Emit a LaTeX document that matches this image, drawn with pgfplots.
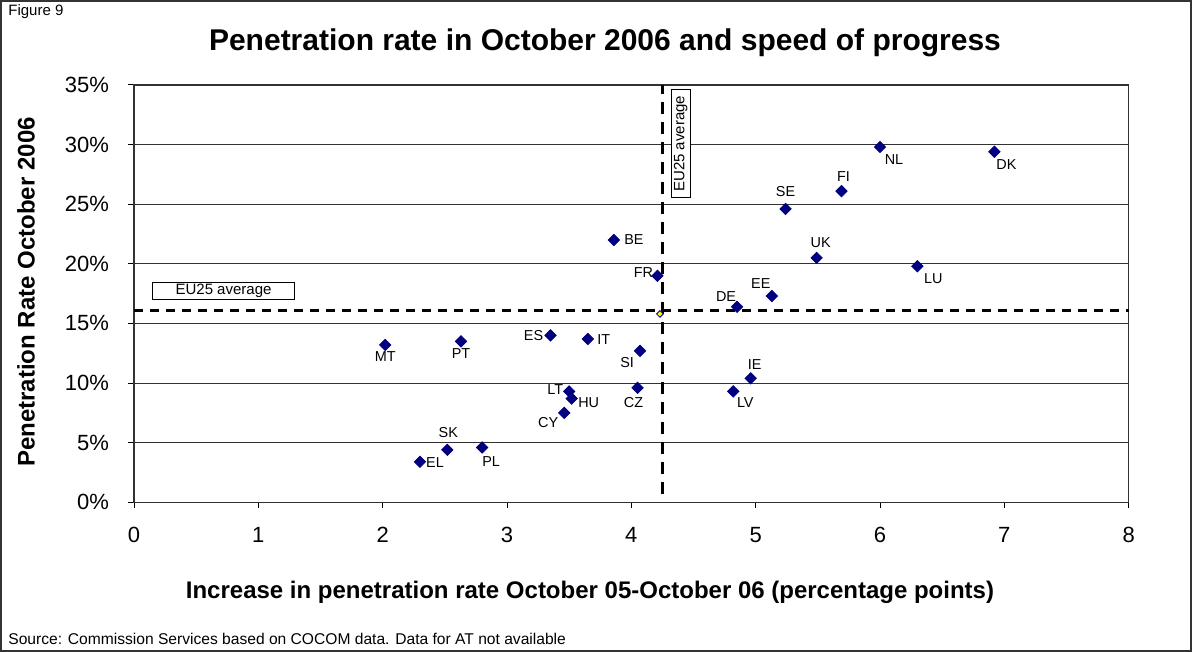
\documentclass[border=0pt]{standalone}
\usepackage{pgfplots}
\pgfplotsset{compat=1.18}
\usepackage{pgfplotstable}
\usepackage{fontspec}
\setmainfont{Liberation Sans}
\definecolor{navy}{RGB}{0,0,128}
\definecolor{gridc}{RGB}{50,50,50}

\pgfplotstableread{
x y lab dx dy
2.02 13.2 MT 0 -6
2.63 13.5 PT 0 -6
3.35 14.0 ES -8.5 0
3.65 13.7 IT 8 -0.5
4.07 12.7 SI -6.5 -6
3.50 9.3 LT -7 1
3.52 8.7 HU 8.5 -2
3.46 7.5 CY -8 -5
4.05 9.6 CZ -2 -7.5
2.52 4.4 SK 0.5 8.5
2.30 3.4 EL 7.5 -0.5
2.80 4.6 PL 4.5 -7
3.86 22.0 BE 10 0
4.21 19.0 FR -7 1.5
4.85 16.4 DE -5.5 5
5.13 17.3 EE -5.5 6
5.49 20.5 UK 2 7.5
6.30 19.8 LU 8 -6
5.24 24.6 SE 0 8.5
5.69 26.1 FI 1 7.5
6.00 29.8 NL 7 -6.5
6.92 29.4 DK 6 -6.5
4.96 10.4 IE 2 7
4.82 9.3 LV 6 -5.5
}\data

\begin{document}
\begin{tikzpicture}
\draw[line width=0.8pt, black!80] (0.4pt,0.4pt) rectangle (595.6pt,325.6pt);
\node[anchor=west, inner sep=0pt, font=\fontsize{7.5}{9}\selectfont] at (4pt,320pt) {Figure 9};
\node[font=\bfseries\fontsize{15}{17}\selectfont] at (302.5pt,304.5pt) {Penetration rate in October 2006 and speed of progress};
\node[rotate=90, font=\bfseries\fontsize{12}{14}\selectfont] at (13pt,180pt) {Penetration Rate October 2006};
\node[font=\bfseries\fontsize{12}{14}\selectfont] at (295pt,30pt) {Increase in penetration rate October 05-October 06 (percentage points)};
\node[anchor=west, inner sep=0pt, font=\fontsize{7.8}{9}\selectfont] at (4pt,6.5pt) {Source: Commission Services based on COCOM data. Data for AT not available};
\begin{axis}[
  at={(67pt,74.85pt)}, anchor=south west, scale only axis,
  width=497.35pt, height=208.65pt,
  xmin=0, xmax=8, ymin=0, ymax=35,
  xtick={0,1,2,3,4,5,6,7,8},
  xticklabels={0,1,2,3,4,5,6,7,8},
  ytick={0,5,10,15,20,25,30,35},
  yticklabels={0\%,5\%,10\%,15\%,20\%,25\%,30\%,35\%},
  xtick pos=bottom, ytick pos=left,
  tick align=outside, major tick length=3pt,
  tick style={black, line width=0.5pt},
  ymajorgrids, grid style={gridc, line width=0.5pt},
  axis line style={gridc, line width=0.6pt},
  ticklabel style={font=\fontsize{11}{13}\selectfont},
  xticklabel style={yshift=-6pt},
  yticklabel style={xshift=-6pt},
  clip=false,
]
\addplot[black, line width=1.5pt, dash pattern=on 4.5pt off 3.5pt] coordinates {(0,16.1) (8,16.1)};
\addplot[black, line width=1.5pt, dash pattern=on 6pt off 4pt] coordinates {(4.25,0.7) (4.25,35)};
\addplot[only marks, mark=square*, mark size=2pt,
  mark options={rotate=45, fill=navy, draw=navy},
  point meta=explicit symbolic,
  visualization depends on={\thisrow{dx} \as \dx},
  visualization depends on={\thisrow{dy} \as \dy},
  nodes near coords,
  nodes near coords style={font=\fontsize{7.2}{8}\selectfont, anchor=center, inner sep=0pt, xshift=\dx pt, yshift=\dy pt, text=black},
] table[x=x, y=y, meta=lab] {\data};
\addplot[only marks, mark=square*, mark size=1.2pt,
  mark options={rotate=45, fill=yellow, draw=navy, line width=0.4pt}] coordinates {(4.23,15.8)};
\node[draw=black, line width=0.5pt, fill=white, minimum width=71pt, minimum height=8.5pt, inner sep=0pt, font=\fontsize{7.5}{8}\selectfont] at (axis cs:0.72,17.75) {EU25 average};
\node[draw=black, line width=0.5pt, fill=white, rotate=90, minimum width=54pt, minimum height=9.5pt, inner sep=0pt, font=\fontsize{7.5}{8}\selectfont] at (axis cs:4.397,30.07) {EU25 average};
\end{axis}
\end{tikzpicture}
\end{document}
